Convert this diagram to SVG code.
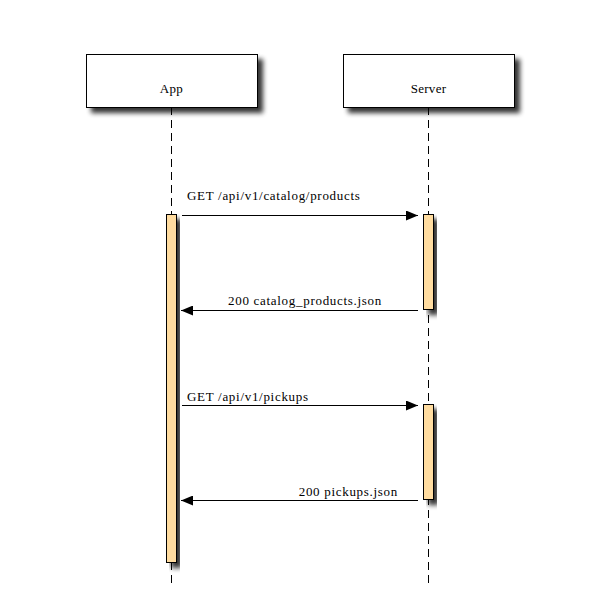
<svg xmlns="http://www.w3.org/2000/svg" width="600" height="600" viewBox="0 0 600 600">
<defs>
<filter id="sh" x="-20%" y="-20%" width="150%" height="160%">
<feGaussianBlur in="SourceAlpha" stdDeviation="2.5"/>
<feOffset dx="5" dy="5" result="b"/>
<feComponentTransfer><feFuncA type="linear" slope="0.8"/></feComponentTransfer>
<feMerge><feMergeNode/><feMergeNode in="SourceGraphic"/></feMerge>
</filter>
<marker id="ah" markerWidth="12" markerHeight="10" refX="12" refY="5" orient="auto" markerUnits="userSpaceOnUse">
<path d="M0,0 L12,5 L0,10 Z" fill="#000"/>
</marker>
</defs>
<style>
.box{fill:#fff;stroke:#000;stroke-width:1}
.act{fill:#ffdca0;stroke:#000;stroke-width:1}
.life{stroke:#000;stroke-width:1;stroke-dasharray:8 5;fill:none}
.msg{stroke:#000;stroke-width:1;fill:none;marker-end:url(#ah)}
text{font-family:"Liberation Serif","DejaVu Serif",serif;font-size:13px;letter-spacing:0.7px;fill:#000}
.lbl{letter-spacing:0.3px}
</style>
<rect width="600" height="600" fill="#fff"/>
<g id="lifelines">
<line class="life" x1="171.5" y1="107" x2="171.5" y2="584"/>
<line class="life" x1="428.5" y1="107" x2="428.5" y2="584"/>
</g>
<g id="App">
<rect class="box" x="86.5" y="54.5" width="171" height="53" filter="url(#sh)"/>
<text class="lbl" x="171.5" y="93" text-anchor="middle">App</text>
</g>
<g id="Server">
<rect class="box" x="343.5" y="54.5" width="171" height="53" filter="url(#sh)"/>
<text class="lbl" x="428.5" y="93" text-anchor="middle">Server</text>
</g>
<g id="activations">
<rect class="act" x="166.5" y="214.5" width="10" height="348" filter="url(#sh)"/>
<rect class="act" x="423.5" y="214.5" width="10" height="95" filter="url(#sh)"/>
<rect class="act" x="423.5" y="404.5" width="10" height="95" filter="url(#sh)"/>
</g>
<g id="connectors">
<line class="msg" x1="182" y1="215.5" x2="418" y2="215.5"/>
<text x="187" y="200">GET /api/v1/catalog/products</text>
<line class="msg" x1="418" y1="310.5" x2="181" y2="310.5"/>
<text x="382" y="305" text-anchor="end">200 catalog_products.json</text>
<line class="msg" x1="182" y1="405.5" x2="418" y2="405.5"/>
<text x="187" y="401">GET /api/v1/pickups</text>
<line class="msg" x1="418" y1="500.5" x2="181" y2="500.5"/>
<text x="398" y="496" text-anchor="end">200 pickups.json</text>
</g>
</svg>
